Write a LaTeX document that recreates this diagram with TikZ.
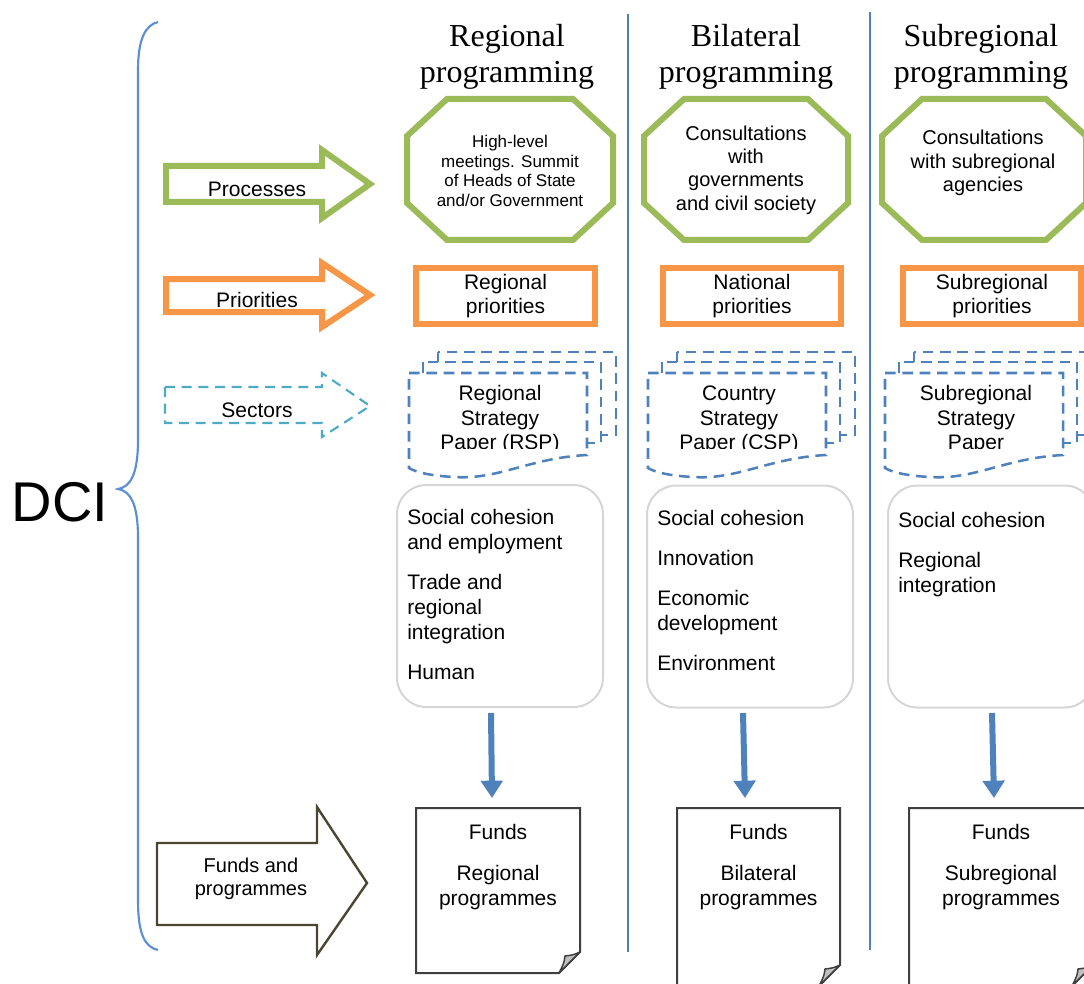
\documentclass[tikz,border=0pt]{standalone}
\usepackage{fontspec}
\setmainfont{Liberation Sans}
\newfontfamily\hdrserif{Liberation Serif}
\usetikzlibrary{arrows.meta,calc}
\definecolor{cgreen}{HTML}{9BBB59}
\definecolor{corange}{HTML}{F79646}
\definecolor{cteal}{HTML}{4BACC6}
\definecolor{cblue}{HTML}{4F81BD}
\definecolor{cbrace}{HTML}{5B8FD3}
\definecolor{cgray}{HTML}{D6D6D6}
\definecolor{cdark}{HTML}{3F3F3F}
\definecolor{colive}{HTML}{4A4632}
\definecolor{cfold}{HTML}{BFBFBF}
\newcommand\myocta[4]{%
  \draw[octo] (#1+40,#2) -- (#3-40,#2) -- (#3,#2+37) -- (#3,#4-37) -- (#3-40,#4) -- (#1+40,#4) -- (#1,#4-37) -- (#1,#2+37) -- cycle;}
\newcommand\mydocs[2]{% front-left x, text
  \begin{scope}[shift={(#1,0)}]
    \draw[docd] (29,352) rectangle (207,435);
    \draw[docd] (14,362) rectangle (192,443);
    \draw[docd] (0,373) -- (178,373) -- (178,455) .. controls (120,458) and (90,480) .. (45,477) .. controls (25,476) and (8,473) .. (0,468) -- cycle;
    \begin{scope}
      \clip (0,373) rectangle (178,448);
      \node[lbl] at (91,420) {#2};
    \end{scope}
  \end{scope}}
\newcommand\myfunds[5]{% x1,y1,x2,y2,text
  \draw[fundsdoc] (#1,#2) -- (#3,#2) -- (#3,#4-21) -- (#3-21,#4) -- (#1,#4) -- cycle;
  \filldraw[fill=cfold, draw=cdark, line width=1.1pt, line join=round] (#3,#4-21) .. controls (#3-7,#4-18) .. (#3-15,#4-17) .. controls (#3-16,#4-10) .. (#3-21,#4) -- cycle;
  \node[lbl, anchor=north] at ({(#1+#3)/2},824) {Funds\\[12.5pt]#5};}
\begin{document}
\begin{tikzpicture}[x=0.75pt,y=-0.75pt,
  lbl/.style={font=\fontsize{15.75pt}{18.4pt}\selectfont, align=center, inner sep=0pt},
  lst/.style={font=\fontsize{15.75pt}{18.75pt}\selectfont, align=left, inner sep=0pt, anchor=north west},
  hdr/.style={font=\hdrserif\fontsize{24pt}{27pt}\selectfont, align=center, inner sep=0pt},
  octo/.style={draw=cgreen, line width=4.5pt, fill=white, line join=miter},
  prio/.style={draw=corange, line width=4.5pt, fill=white, minimum width=134pt, minimum height=42pt, font=\fontsize{15.75pt}{18pt}\selectfont, align=center},
  docd/.style={draw=cblue, line width=1.9pt, dash pattern=on 8pt off 5pt, fill=white},
  secbox/.style={draw=cgray, line width=1.5pt, rounded corners=22pt, minimum width=154.5pt, minimum height=166.5pt},
  fundsdoc/.style={draw=cdark, line width=1.5pt, fill=white, line join=miter},
  downarr/.style={draw=cblue, line width=4.5pt, -{Triangle[length=13pt,width=16pt]}},
  sidearrow/.style={line width=4.5pt, fill=white, line join=miter},
  vline/.style={draw=cblue, line width=1.5pt}]
\useasboundingbox (0,0) rectangle (1084,984);
\clip (0,0) rectangle (1084,984);

% brace and DCI
\draw[cbrace, line width=1.6pt] (158,22) .. controls (145,25) and (138,40) .. (138,70) -- (138,440) .. controls (138,475) and (130,487) .. (118,489) .. controls (130,491) and (138,503) .. (138,538) -- (138,900) .. controls (138,935) and (145,947) .. (158,950);
\node[font=\fontsize{42pt}{42pt}\selectfont, inner sep=0pt] (dci) at (60,502) {DCI};

% column separators
\draw[vline] (628,14) -- (628,952);
\draw[vline] (870,12) -- (870,950);

% headers
\node[hdr] (h1) at (507,57) {Regional\\programming};
\node[hdr] (h2) at (746,57) {Bilateral\\programming};
\node[hdr] (h3) at (981,57) {Subregional\\programming};

% left arrows
\draw[sidearrow, draw=cgreen] (166,166) -- (322,166) -- (322,150) -- (370,184) -- (322,218) -- (322,202) -- (166,202) -- cycle;
\node[lbl] (lp) at (257,189) {Processes};
\draw[sidearrow, draw=corange] (166,279) -- (322,279) -- (322,263) -- (370,295) -- (322,327) -- (322,312) -- (166,312) -- cycle;
\node[lbl] (lpr) at (257,300) {Priorities};
\draw[draw=cteal, line width=1.6pt, dash pattern=on 7.5pt off 5pt, fill=white] (165,387) -- (322,387) -- (322,373) -- (370,406) -- (322,437) -- (322,423) -- (165,423) -- cycle;
\node[lbl] (ls) at (257,410) {Sectors};
\draw[draw=colive, line width=1.8pt, fill=white, line join=miter] (157,843) -- (317,843) -- (317,807) -- (367,883) -- (317,955) -- (317,925) -- (157,925) -- cycle;
\node[lbl, font=\fontsize{15pt}{17.5pt}\selectfont] (lf) at (251,879) {Funds and\\programmes};

% octagons
\myocta{407}{99}{613}{240}
\node[lbl, font=\fontsize{12.75pt}{14.7pt}\selectfont] (o1) at (510,171) {High-level\\meetings. Summit\\of Heads of State\\and/or Government};
\myocta{644}{99}{848}{240}
\node[lbl, font=\fontsize{15pt}{17.5pt}\selectfont] (o2) at (746,170) {Consultations\\with\\governments\\and civil society};
\myocta{882}{99}{1086}{240}
\node[lbl, font=\fontsize{15pt}{17.5pt}\selectfont] (o3) at (983,163) {Consultations\\with subregional\\agencies};

% priorities
\node[prio] (p1) at (505.5,296) {Regional\\priorities};
\node[prio] (p2) at (752,296) {National\\priorities};
\node[prio] (p3) at (992,296) {Subregional\\priorities};

% strategy papers
\mydocs{409}{Regional\\Strategy\\Paper (RSP)}
\mydocs{648}{Country\\Strategy\\Paper (CSP)}
\mydocs{885}{Subregional\\Strategy\\Paper}

% sector boxes
\node[secbox] (s1) at (500,596) {};
\node[lst] (t1) at (407,509) {Social cohesion\\and employment\\[11.25pt]Trade and\\regional\\integration\\[11.25pt]Human};
\node[secbox] (s2) at (750,596.5) {};
\node[lst] (t2) at (657,510) {Social cohesion\\[11.25pt]Innovation\\[11.25pt]Economic\\development\\[11.25pt]Environment};
\node[secbox] (s3) at (991,596.5) {};
\node[lst] (t3) at (898,512) {Social cohesion\\[11.25pt]Regional\\integration};

% funds documents
\myfunds{416}{808}{580}{973}{Regional\\programmes}
\myfunds{677}{808}{840}{986}{Bilateral\\programmes}
\myfunds{909}{808}{1093}{986}{Subregional\\programmes}

% down arrows
\coordinate (a1) at (491,713); \coordinate (b1) at (492,798);
\coordinate (a2) at (743,713); \coordinate (b2) at (745,798);
\coordinate (a3) at (992,713); \coordinate (b3) at (994,798);
\draw[downarr] (a1) -- (b1);
\draw[downarr] (a2) -- (b2);
\draw[downarr] (a3) -- (b3);
\end{tikzpicture}
\end{document}
